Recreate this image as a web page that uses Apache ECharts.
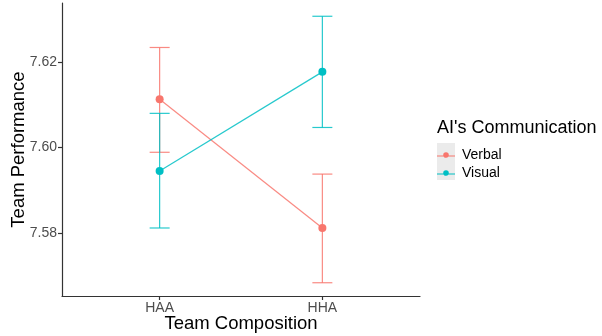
<!DOCTYPE html>
<html>
<head>
<meta charset="utf-8">
<script src="https://cdn.jsdelivr.net/npm/echarts@6/dist/echarts.min.js"></script>
<style>html,body{margin:0;padding:0;background:#fff}#c{width:602px;height:336px}</style>
</head>
<body>
<div id="c"></div>
<script>
const categories = ['HAA', 'HHA'];
const groups = ['Verbal', 'Visual'];
const colors = ['#F8766D', '#00BFC4'];
const verbalMean = [7.6113, 7.5812];
const verbalLow = [7.5989, 7.5684];
const verbalHigh = [7.6234, 7.5938];
const visualMean = [7.5945, 7.6177];
const visualLow = [7.5812, 7.6047];
const visualHigh = [7.6080, 7.6307];
const yTicks = [7.58, 7.60, 7.62];
const yMin = 7.5653, yMax = 7.6338;

const means = [verbalMean, visualMean];
const lows = [verbalLow, visualLow];
const highs = [verbalHigh, visualHigh];
const xPos = categories.map((c, i) => i + 1);

const font = 'Liberation Sans, Arial, sans-serif';
const chart = echarts.init(document.getElementById('c'));

const legendIcon = 'path://M0,4.4 L18,4.4 L18,5.6 L0,5.6 Z M9,6.8 A2.8,2.8 0 1,1 9.01,6.8 Z';

const series = [];
groups.forEach((g, gi) => {
  series.push({
    name: g + ' error',
    type: 'custom',
    silent: true,
    z: 1,
    data: xPos.map((x, i) => [x, lows[gi][i], highs[gi][i]]),
    renderItem: function (params, api) {
      const x = api.value(0);
      const lo = api.coord([x, api.value(1)]);
      const hi = api.coord([x, api.value(2)]);
      const hw = 10;
      const st = { stroke: colors[gi], lineWidth: 1.2, opacity: 0.85 };
      return {
        type: 'group',
        children: [
          { type: 'line', shape: { x1: lo[0], y1: lo[1], x2: hi[0], y2: hi[1] }, style: st },
          { type: 'line', shape: { x1: lo[0] - hw, y1: lo[1], x2: lo[0] + hw, y2: lo[1] }, style: st },
          { type: 'line', shape: { x1: hi[0] - hw, y1: hi[1], x2: hi[0] + hw, y2: hi[1] }, style: st }
        ]
      };
    }
  });
  series.push({
    name: g,
    type: 'line',
    z: 3,
    data: xPos.map((x, i) => [x, means[gi][i]]),
    symbol: 'circle',
    symbolSize: 8,
    itemStyle: { color: colors[gi] },
    lineStyle: { color: colors[gi], width: 1.2, opacity: 0.85 }
  });
});

chart.setOption({
  animation: false,
  backgroundColor: '#fff',
  grid: { left: 62, right: 182, top: 3, bottom: 40, containLabel: false, outerBoundsMode: 'none' },
  title: {
    text: "AI's Communication",
    left: 432, top: 114,
    textStyle: { fontFamily: font, fontSize: 18, fontWeight: 'normal', color: '#000' }
  },
  legend: {
    data: groups.map(g => ({ name: g, icon: legendIcon })),
    orient: 'vertical',
    left: 437, top: 148,
    itemWidth: 18, itemHeight: 10, itemGap: 4,
    textStyle: { fontFamily: font, fontSize: 14, color: '#000', padding: [0, 0, 0, 2] },
    padding: 0
  },
  graphic: [{
    type: 'rect', left: 437, top: 143, z: -1,
    shape: { width: 18, height: 37 },
    style: { fill: '#EBEBEB' }
  }],
  xAxis: {
    type: 'value',
    min: 0.4, max: 2.6,
    name: 'Team Composition',
    nameLocation: 'middle',
    nameGap: 18,
    nameMoveOverlap: false,
    nameTextStyle: { fontFamily: font, fontSize: 18.5, color: '#000' },
    splitLine: { show: false },
    axisLine: { lineStyle: { color: '#333', width: 1.2 } },
    axisTick: { customValues: xPos, length: 4, lineStyle: { color: '#333', width: 1.2 } },
    axisLabel: {
      customValues: xPos,
      formatter: v => categories[Math.round(v) - 1] || '',
      fontFamily: font, fontSize: 14, color: '#4D4D4D', margin: 5
    }
  },
  yAxis: {
    type: 'value',
    min: yMin, max: yMax,
    name: 'Team Performance',
    nameLocation: 'middle',
    nameGap: 34,
    nameMoveOverlap: false,
    nameTextStyle: { fontFamily: font, fontSize: 18.5, color: '#000' },
    splitLine: { show: false },
    axisLine: { show: true, lineStyle: { color: '#333', width: 1.2 } },
    axisTick: { show: true, customValues: yTicks, length: 4, lineStyle: { color: '#333', width: 1.2 } },
    axisLabel: {
      customValues: yTicks,
      formatter: v => v.toFixed(2),
      fontFamily: font, fontSize: 14, color: '#4D4D4D', margin: 5
    }
  },
  series: series
});
</script>
</body>
</html>
